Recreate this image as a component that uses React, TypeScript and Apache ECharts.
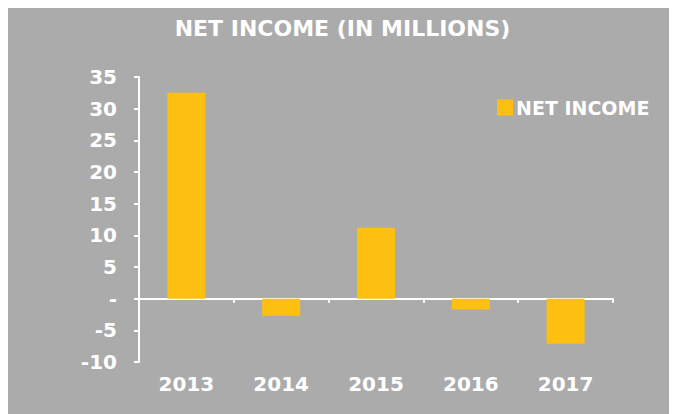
import React, { useEffect, useRef } from "react";
import * as echarts from "echarts";

const years = ["2013", "2014", "2015", "2016", "2017"];
const netIncome = [32.5, -2.7, 11.2, -1.7, -7.1];
const seriesName = "NET INCOME";
const titleText = "NET INCOME (IN MILLIONS)";

export default function App() {
  const ref = useRef<HTMLDivElement>(null);
  useEffect(() => {
    if (!ref.current) return;
    const chart = echarts.init(ref.current, undefined, { renderer: "svg" });
    const font = "DejaVu Sans";
    chart.setOption({
      animation: false,
      backgroundColor: "#ababab",
      title: {
        text: titleText,
        left: "center",
        top: 9,
        padding: 0,
        textStyle: { color: "#fff", fontFamily: font, fontWeight: "bold", fontSize: 22 },
      },
      legend: {
        data: [seriesName],
        left: 489,
        top: 90,
        padding: 0,
        icon: "rect",
        itemWidth: 16,
        itemHeight: 16,
        itemGap: 4,
        textStyle: { color: "#fff", fontFamily: font, fontWeight: "bold", fontSize: 19, padding: [0, 0, 0, -2] },
      },
      grid: { left: 131, right: 64, top: 69, bottom: 52, containLabel: false },
      xAxis: [
        {
          type: "category",
          data: years,
          axisLine: { onZero: true, lineStyle: { color: "#fff", width: 2 } },
          axisTick: { show: true, length: 4, lineStyle: { color: "#fff", width: 2 } },
          axisLabel: { show: false },
        },
        {
          type: "category",
          data: years,
          position: "bottom",
          axisLine: { show: false, onZero: false },
          axisTick: { show: false },
          axisLabel: { color: "#fff", fontFamily: font, fontWeight: "bold", fontSize: 20, margin: 12 },
        },
      ],
      yAxis: {
        type: "value",
        min: -10,
        max: 35,
        interval: 5,
        splitLine: { show: false },
        axisLine: { show: true, lineStyle: { color: "#fff", width: 2 } },
        axisTick: { show: true, length: 5, lineStyle: { color: "#fff", width: 2 } },
        axisLabel: {
          color: "#fff",
          fontFamily: font,
          fontWeight: "bold",
          fontSize: 20,
          margin: 22,
          formatter: (v: number) => (v === 0 ? "-" : String(v)),
        },
      },
      series: [
        {
          name: seriesName,
          type: "bar",
          data: netIncome,
          barWidth: 38,
          xAxisIndex: 0,
          itemStyle: { color: "#fdc010" },
        },
      ],
    });
    return () => chart.dispose();
  }, []);
  return <div ref={ref} style={{ width: 669, height: 406 }} />;
}
